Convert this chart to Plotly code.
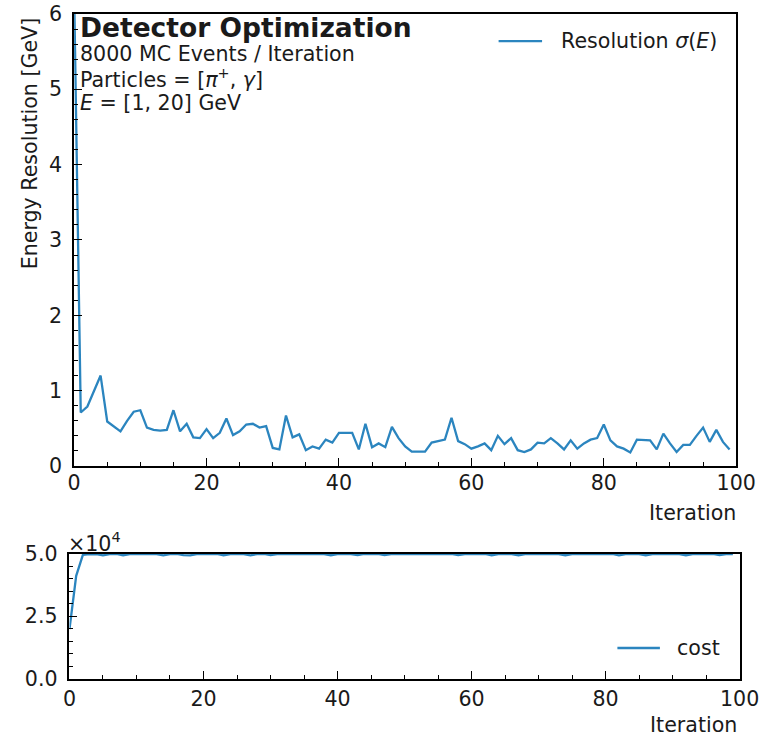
import plotly.graph_objects as go

# ---- data ----
iterations = list(range(100))
resolution = [6.3, 0.71, 0.79, 1.00, 1.20, 0.59, 0.53, 0.46, 0.60, 0.72,
              0.74, 0.51, 0.48, 0.47, 0.48, 0.74, 0.46, 0.56, 0.38, 0.37,
              0.49, 0.37, 0.44, 0.63, 0.41, 0.46, 0.55, 0.56, 0.51, 0.53,
              0.24, 0.22, 0.67, 0.38, 0.42, 0.21, 0.26, 0.23, 0.35, 0.31,
              0.44, 0.44, 0.44, 0.22, 0.56, 0.25, 0.30, 0.25, 0.52, 0.37,
              0.26, 0.19, 0.19, 0.19, 0.31, 0.33, 0.35, 0.64, 0.33, 0.29,
              0.23, 0.26, 0.30, 0.21, 0.40, 0.29, 0.37, 0.21, 0.185, 0.22,
              0.31, 0.30, 0.37, 0.30, 0.22, 0.34, 0.23, 0.30, 0.35, 0.37,
              0.55, 0.34, 0.26, 0.23, 0.18, 0.35, 0.34, 0.34, 0.22, 0.43,
              0.30, 0.185, 0.28, 0.28, 0.40, 0.51, 0.32, 0.48, 0.32, 0.22]
cost = [19800, 41100, 49500, 49800, 49750, 49300, 49800, 49850, 49350, 49800,
        49850, 49800, 49850, 49800, 49300, 49800, 49850, 49350, 49300, 49800,
        49850, 49800, 49850, 49350, 49800, 49850, 49800, 49300, 49800, 49850,
        49400, 49800, 49850, 49850, 49800, 49850, 49800, 49850, 49800, 49350,
        49800, 49850, 49800, 49400, 49850, 49800, 49850, 49400, 49800, 49850,
        49850, 49800, 49850, 49800, 49850, 49800, 49850, 49850, 49400, 49800,
        49850, 49800, 49850, 49350, 49800, 49850, 49800, 49350, 49800, 49850,
        49850, 49800, 49850, 49800, 49350, 49800, 49850, 49800, 49850, 49850,
        49800, 49850, 49300, 49800, 49850, 49800, 49350, 49800, 49850, 49800,
        49850, 49800, 49350, 49800, 49850, 49800, 49850, 49400, 49800, 49850]

x_ticks = [0, 20, 40, 60, 80, 100]
res_ticks = [0, 1, 2, 3, 4, 5, 6]
cost_tickvals = [0, 25000, 50000]
cost_ticktext = ["0.0", "2.5", "5.0"]

# ---- style ----
W, H = 790, 750
FONT = "DejaVu Sans"
TXT = "#1a1a1a"
BLUE = "#2b85bf"
FS = 20.6


def px(x):
    return x / W


def py(y):
    return 1 - y / H


fig = go.Figure()
fig.add_trace(go.Scatter(x=iterations, y=resolution, mode="lines",
                         line=dict(color=BLUE, width=2.3),
                         name="Resolution σ(E)", xaxis="x", yaxis="y"))
fig.add_trace(go.Scatter(x=iterations, y=cost, mode="lines",
                         line=dict(color=BLUE, width=2.3),
                         name="cost", xaxis="x2", yaxis="y2"))

axis_common = dict(showline=True, linecolor="black", linewidth=1.6, mirror=True,
                   ticks="inside", ticklen=8, tickwidth=1.2, tickcolor="black",
                   showgrid=False, zeroline=False,
                   tickfont=dict(family=FONT, size=FS, color=TXT))
minor_common = dict(ticks="inside", ticklen=4, tickwidth=1, tickcolor="black")

fig.update_layout(
    width=W, height=H, margin=dict(l=0, r=0, t=0, b=0),
    paper_bgcolor="white", plot_bgcolor="white",
    font=dict(family=FONT, size=FS, color=TXT),
    showlegend=False,
    xaxis=dict(domain=[px(69.5), px(755)], range=[0, 100], tickvals=x_ticks,
               anchor="y", ticklabelstandoff=-3,
               minor=dict(dtick=5, **minor_common), **axis_common),
    yaxis=dict(domain=[py(469), py(2)], range=[0, 6], tickvals=res_ticks,
               anchor="x", ticklabelstandoff=6,
               minor=dict(dtick=0.2, **minor_common), **axis_common),
    xaxis2=dict(domain=[px(64.7), px(758.5)], range=[0, 100], tickvals=x_ticks,
                anchor="y2", ticklabelstandoff=1,
                minor=dict(dtick=5, **minor_common), **axis_common),
    yaxis2=dict(domain=[py(688.7), py(559.5)], range=[0, 50000], tickvals=cost_tickvals,
                ticktext=cost_ticktext, anchor="x2", ticklabelstandoff=6,
                minor=dict(dtick=5000, **minor_common), **axis_common),
)

# legend-like entries (line sample + label)
fig.add_shape(type="line", xref="paper", yref="paper", x0=px(509), x1=px(554),
              y0=py(30), y1=py(30), line=dict(color=BLUE, width=2.3))
fig.add_annotation(text="Resolution <i>σ</i>(<i>E</i>)", x=px(572), y=py(30),
                   xref="paper", yref="paper", xanchor="left", yanchor="middle",
                   showarrow=False, font=dict(family=FONT, size=FS, color=TXT))
fig.add_shape(type="line", xref="paper", yref="paper", x0=px(632), x1=px(676),
              y0=py(657), y1=py(657), line=dict(color=BLUE, width=2.3))
fig.add_annotation(text="cost", x=px(692), y=py(657),
                   xref="paper", yref="paper", xanchor="left", yanchor="middle",
                   showarrow=False, font=dict(family=FONT, size=FS, color=TXT))

ann = [
    dict(text="<b>Detector Optimization</b>", x=px(73), y=py(16.5), size=26.5),
    dict(text="8000 MC Events / Iteration", x=px(73), y=py(43), size=FS),
    dict(text="Particles = [<i>π</i><sup>+</sup>, <i>γ</i>]", x=px(73), y=py(69), size=FS),
    dict(text="<i>E</i> = [1, 20] GeV", x=px(73), y=py(94), size=FS),
]
for a in ann:
    fig.add_annotation(text=a["text"], x=a["x"], y=a["y"], xref="paper", yref="paper",
                       xanchor="left", yanchor="middle", showarrow=False,
                       font=dict(family=FONT, size=a["size"], color=TXT))

fig.add_annotation(text="Energy Resolution [GeV]", x=px(23.5), y=py(136), xref="paper",
                   yref="paper", textangle=-90, showarrow=False, xanchor="center",
                   yanchor="middle", font=dict(family=FONT, size=FS, color=TXT))
fig.add_annotation(text="Iteration", x=px(757), y=py(518), xref="paper", yref="paper",
                   xanchor="right", yanchor="middle", showarrow=False,
                   font=dict(family=FONT, size=FS, color=TXT))
fig.add_annotation(text="Iteration", x=px(758), y=py(737), xref="paper", yref="paper",
                   xanchor="right", yanchor="middle", showarrow=False,
                   font=dict(family=FONT, size=FS, color=TXT))
fig.add_annotation(text="×10<sup>4</sup>", x=px(61), y=py(548), xref="paper", yref="paper",
                   xanchor="left", yanchor="middle", showarrow=False,
                   font=dict(family=FONT, size=FS, color=TXT))

fig.write_html("out.html")
